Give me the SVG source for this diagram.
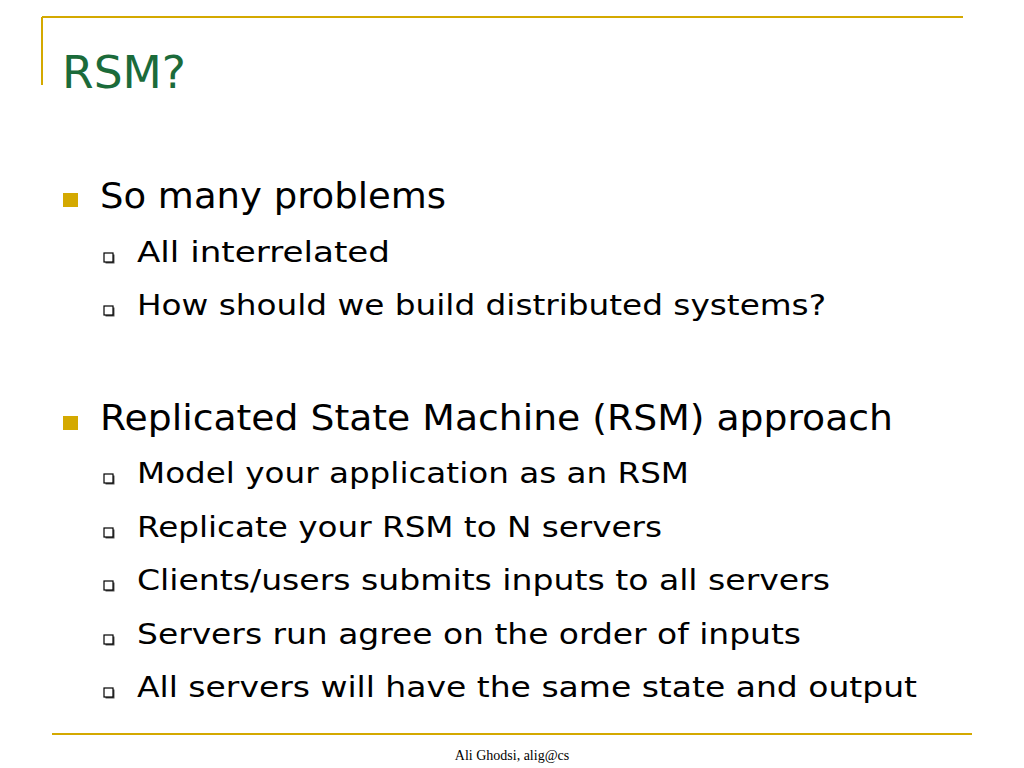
<svg xmlns="http://www.w3.org/2000/svg" width="1024" height="768" viewBox="0 0 1024 768">
<style>
.t1{font-family:"DejaVu Sans",Verdana,sans-serif;font-size:35px;fill:#000}
.t2{font-family:"DejaVu Sans",Verdana,sans-serif;font-size:29px;fill:#000}
.gold{stroke:#d4a900;stroke-width:2}
.b1{fill:#d4a900}
.b2{fill:#fff;stroke:#000;stroke-width:1.2}
</style>
<defs>
<g id="sq"><rect x="1.5" y="1.5" width="9" height="9" fill="#555"/><rect x="0" y="0" width="9" height="9" class="b2"/></g>
</defs>
<rect width="1024" height="768" fill="#fff"/>
<line x1="42" y1="17" x2="963" y2="17" class="gold"/>
<line x1="42" y1="17" x2="42" y2="85" class="gold"/>
<line x1="52" y1="734" x2="972" y2="734" class="gold"/>
<text x="62" y="88" font-family="'DejaVu Sans',Verdana,sans-serif" font-size="44" fill="#1b6b3a" textLength="124" lengthAdjust="spacingAndGlyphs">RSM?</text>
<g id="b1"><rect x="63" y="193" width="15" height="14" class="b1"/><text x="100" y="208" class="t1" textLength="346" lengthAdjust="spacingAndGlyphs">So many problems</text></g>
<g id="s1"><use href="#sq" x="104" y="253"/><text x="137" y="262" class="t2" textLength="253" lengthAdjust="spacingAndGlyphs">All interrelated</text></g>
<g id="s2"><use href="#sq" x="104" y="306"/><text x="137" y="315" class="t2" textLength="689" lengthAdjust="spacingAndGlyphs">How should we build distributed systems?</text></g>
<g id="b2"><rect x="63" y="416" width="15" height="14" class="b1"/><text x="100" y="430" class="t1" textLength="793" lengthAdjust="spacingAndGlyphs">Replicated State Machine (RSM) approach</text></g>
<g id="s3"><use href="#sq" x="104" y="474"/><text x="137" y="483" class="t2" textLength="552" lengthAdjust="spacingAndGlyphs">Model your application as an RSM</text></g>
<g id="s4"><use href="#sq" x="104" y="528"/><text x="137" y="537" class="t2" textLength="525" lengthAdjust="spacingAndGlyphs">Replicate your RSM to N servers</text></g>
<g id="s5"><use href="#sq" x="104" y="581"/><text x="137" y="590" class="t2" textLength="693" lengthAdjust="spacingAndGlyphs">Clients/users submits inputs to all servers</text></g>
<g id="s6"><use href="#sq" x="104" y="635"/><text x="137" y="644" class="t2" textLength="664" lengthAdjust="spacingAndGlyphs">Servers run agree on the order of inputs</text></g>
<g id="s7"><use href="#sq" x="104" y="688"/><text x="137" y="697" class="t2" textLength="780" lengthAdjust="spacingAndGlyphs">All servers will have the same state and output</text></g>
<text x="512" y="760" text-anchor="middle" font-family="'Liberation Serif',serif" font-size="14" fill="#000">Ali Ghodsi, alig@cs</text>
</svg>
